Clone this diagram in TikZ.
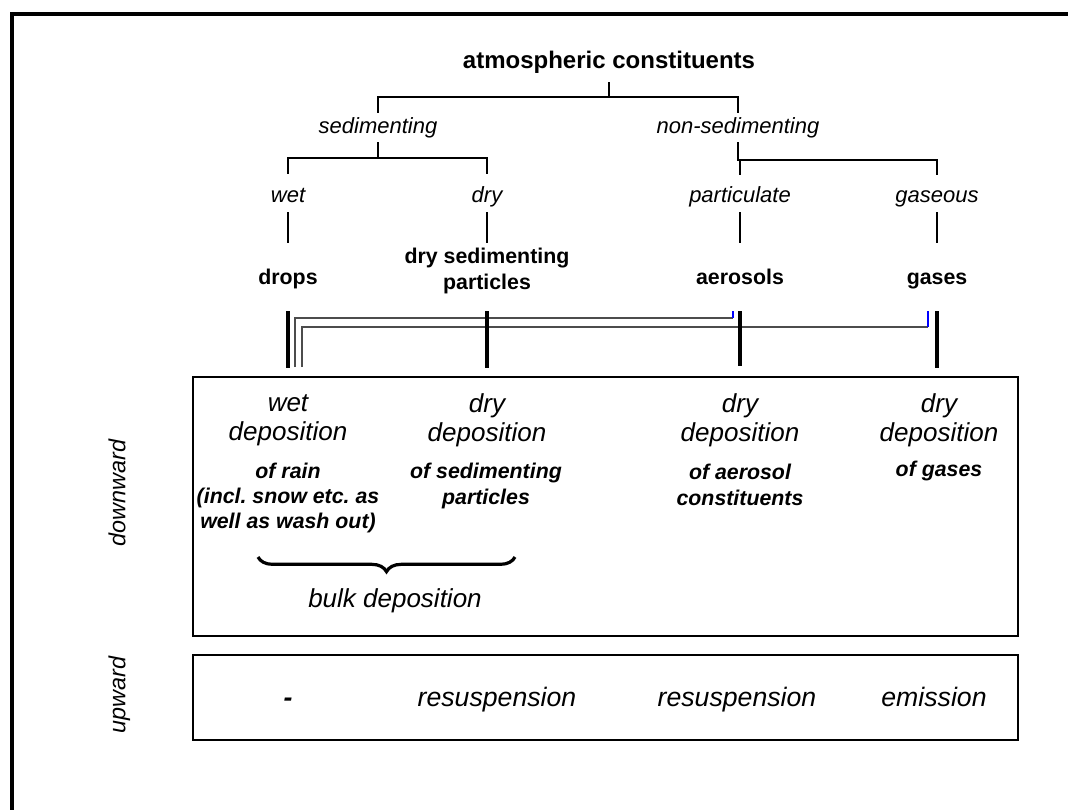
\documentclass[tikz,border=0pt]{standalone}
\usepackage{fontspec}
\setmainfont{Liberation Sans}
\usetikzlibrary{calc,decorations.pathreplacing}
\frenchspacing
\begin{document}
\begin{tikzpicture}[x=0.75pt,y=-0.75pt,
  oneline/.style={text height=0.95em, text depth=0em},
  titlenode/.style={font=\fontsize{18}{20}\selectfont\bfseries, inner sep=0pt, oneline},
  catnode/.style={font=\fontsize{16.5}{19}\selectfont\itshape, inner sep=0pt, oneline},
  itemnode/.style={font=\fontsize{16}{19.5}\selectfont\bfseries, align=center, inner sep=0pt},
  depnode/.style={font=\fontsize{19.5}{21.75}\selectfont\itshape, align=center, inner sep=0pt},
  subnode/.style={font=\fontsize{16}{19}\selectfont\bfseries\itshape, align=center, inner sep=0pt},
  upnode/.style={font=\fontsize{20}{22}\selectfont\itshape, inner sep=0pt, oneline},
  sidenode/.style={font=\fontsize{17.5}{20}\selectfont\itshape, rotate=90, inner sep=0pt, text height=0.72em, text depth=0.22em},
  treeline/.style={line width=2pt},
  barline/.style={line width=3pt},
  washline/.style={line width=1.1pt, draw=black!70},
  tickline/.style={line width=1.5pt, draw=blue},
  panel/.style={draw, line width=1pt, minimum width=618.75pt, inner sep=0pt},
  bracedeco/.style={decorate, decoration={brace, mirror, amplitude=11pt}, line width=2.4pt}
]
\useasboundingbox (0,0) rectangle (1068,810);
% outer frame
\draw[line width=3pt] (12,810) -- (12,14) -- (1068,14);

% tree labels
\node[titlenode] (atm) at (609,62) {atmospheric constituents};
\node[catnode] (sed) at (378,127) {sedimenting};
\node[catnode] (nsed) at (738,127) {non-sedimenting};
\node[catnode] (wet) at (288,196) {wet};
\node[catnode] (dry) at (487,196) {dry};
\node[catnode] (part) at (740,196) {particulate};
\node[catnode] (gas) at (937,196) {gaseous};
\node[itemnode, oneline] (drops) at (288,278) {drops};
\node[itemnode] (dsp) at (487,271) {dry sedimenting\\particles};
\node[itemnode, oneline] (aer) at (740,278) {aerosols};
\node[itemnode, oneline] (gases) at (937,278) {gases};

% tree connectors
\draw[treeline] ($(atm)+(0,20)$) -- ($(atm)+(0,35)$) -| ($(sed)+(0,-14)$);
\draw[treeline] ($(atm)+(0,35)$) -| ($(nsed)+(0,-14)$);
\draw[treeline] ($(sed)+(0,15)$) -- ($(sed)+(0,31)$) -| ($(wet)+(0,-22)$);
\draw[treeline] ($(sed)+(0,31)$) -| ($(dry)+(0,-22)$);
\draw[treeline] ($(nsed)+(0,15)$) -- ($(nsed)+(0,33)$) -| ($(part)+(0,-21)$);
\draw[treeline] ($(nsed)+(0,33)$) -| ($(gas)+(0,-21)$);
\draw[treeline] ($(wet)+(0,16)$) -- ($(drops)+(0,-35)$);
\draw[treeline] ($(dry)+(0,16)$) -- ($(dsp)+(0,-28)$);
\draw[treeline] ($(part)+(0,16)$) -- ($(aer)+(0,-35)$);
\draw[treeline] ($(gas)+(0,16)$) -- ($(gases)+(0,-35)$);

% wash-out connectors
\draw[washline] ($(drops)+(7,89)$) |- ($(aer)+(-7,40)$);
\draw[tickline] ($(aer)+(-7,40)$) -- ++(0,-7);
\draw[washline] ($(drops)+(14,89)$) |- ($(gases)+(-9,49)$);
\draw[tickline] ($(gases)+(-9,49)$) -- ++(0,-16);

% thick bars
\draw[barline] ($(drops)+(0,33)$) -- ++(0,57);
\draw[barline] ($(dsp)+(0,40)$) -- ++(0,57);
\draw[barline] ($(aer)+(0,33)$) -- ++(0,55);
\draw[barline] ($(gases)+(0,33)$) -- ++(0,57);

% panels
\node[panel, minimum height=194.25pt] (down) at (605.5,506.5) {};
\node[panel, minimum height=63.75pt] (up) at (605.5,697.5) {};

% downward contents
\node[depnode] (wd) at (288,420) {wet\\deposition};
\node[depnode] (dd1) at (487,420) {dry\\deposition};
\node[depnode] (dd2) at (740,420) {dry\\deposition};
\node[depnode] (dd3) at (939,420) {dry\\deposition};
\node[subnode] (s1) at (288,498) {of rain\\(incl. snow etc. as\\well as wash out)};
\node[subnode] (s2) at (486,486) {of sedimenting\\particles};
\node[subnode] (s3) at (740,485) {of aerosol\\constituents};
\node[subnode, oneline] (s4) at (939,470) {of gases};
\coordinate (b1) at (258,557);
\coordinate (b2) at (515,557);
\draw[bracedeco] (b1) -- (b2);
\node[depnode, oneline] (bulk) at (395,601) {bulk deposition};

% upward contents
\node[upnode, font=\fontsize{20}{22}\selectfont\bfseries\itshape] (dash) at (288,700) {-};
\node[upnode] (r1) at (497,700) {resuspension};
\node[upnode] (r2) at (737,700) {resuspension};
\node[upnode] (em) at (934,700) {emission};

% side labels
\node[sidenode] (ldown) at (122,493) {downward};
\node[sidenode] (lup) at (122,695) {upward};
\end{tikzpicture}
\end{document}
